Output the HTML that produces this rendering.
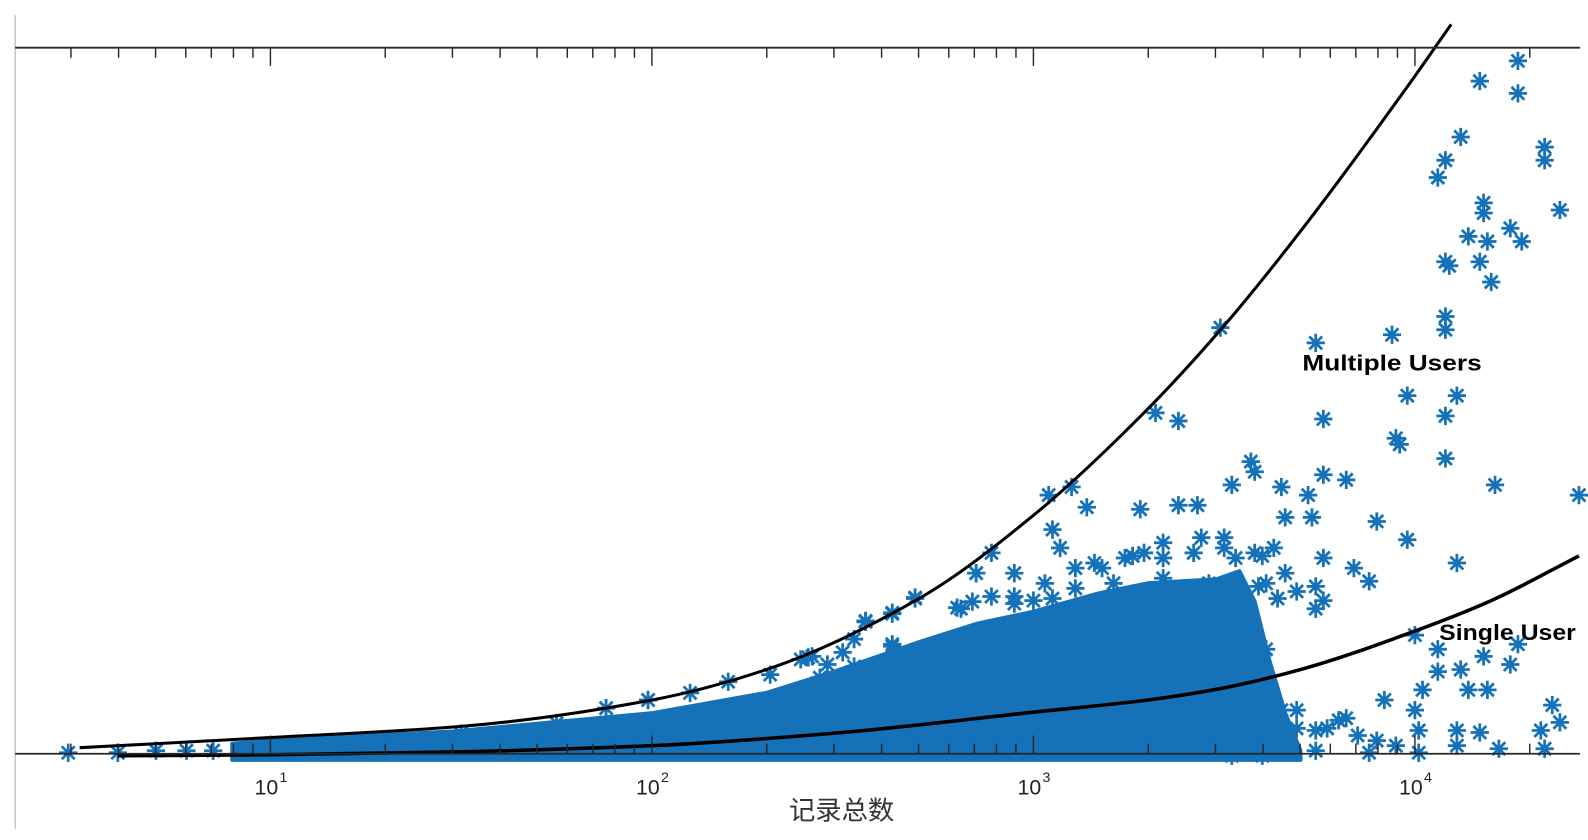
<!DOCTYPE html>
<html><head><meta charset="utf-8">
<style>
html,body{margin:0;padding:0;background:#fff;}
svg{display:block;}
</style></head>
<body>
<svg id="chart" width="1588" height="840" viewBox="0 0 1568 828" preserveAspectRatio="none" xmlns="http://www.w3.org/2000/svg">
<g id="frame"></g>
<g id="blob"></g>
<g id="stars"></g>
<g id="curves"></g>
<g id="axes"></g>
<text x="1286" y="365" font-family="Liberation Sans, sans-serif" font-weight="bold" font-size="22" textLength="177" lengthAdjust="spacingAndGlyphs">Multiple Users</text>
<text x="1421" y="631" font-family="Liberation Sans, sans-serif" font-weight="bold" font-size="22" textLength="135" lengthAdjust="spacingAndGlyphs">Single User</text>
<text x="831" y="808" text-anchor="middle" font-family="Liberation Sans, 'Noto Sans CJK SC', sans-serif" font-size="26" fill="#333">记录总数</text>
</svg>
<script>
// ---- data (x = log10 of record count, y = value in chart units) ----
const decadeTicks = [1, 2, 3, 4];
const tickLabels = ["1", "2", "3", "4"];
const upperCurveX = [0.5, 1, 1.5, 2, 2.3, 2.7, 3, 3.3, 3.5, 3.7, 4, 4.095];
const upperCurveY = [6, 16, 27, 53, 83, 153, 235, 340, 422, 515, 668, 719];
const lowerCurveX = [0.6, 1, 1.5, 2, 2.5, 3, 3.3, 3.5, 3.7, 4, 4.2, 4.43];
const lowerCurveY = [-2, -1, 2, 8, 21, 41, 53, 65, 83, 121, 151, 195];
const cloudTopX = [0.9, 1, 1.48, 2, 2.3, 2.47, 2.7, 2.85, 3, 3.17, 3.3, 3.48, 3.54, 3.58, 3.62, 3.66, 3.7];
const cloudTopY = [10, 13, 22, 40, 60, 80, 110, 128, 140, 158, 168, 172, 180, 150, 90, 40, 3];
const cloudBottomY = -6;
const pointX = [4.27,4.17,4.27,4.12,4.08,4.34,4.34,4.06,4.18,4.18,4.38,4.14,4.19,4.25,4.28,4.08,4.09,4.17,4.20,3.49,3.74,3.94,4.08,4.08,3.98,4.11,3.32,3.38,3.76,4.08,3.95,3.96,4.08,3.58,3.52,3.76,3.82,3.65,3.72,4.21,4.43,3.04,3.10,3.14,3.28,3.38,3.43,3.66,3.73,3.05,3.90,3.98,3.07,2.89,4.11,3.76,3.84,3.88,3.74,3.76,3.74,3.59,2.95,2.85,2.69,2.63,2.56,2.53,2.63,2.41,4.00,4.06,4.12,4.18,4.25,4.27,4.06,4.14,4.19,4.02,4.00,3.92,4.01,4.11,4.17,4.36,4.33,4.38,3.82,3.77,3.90,4.11,4.22,4.34,3.95,3.74,3.64,3.55,3.44,3.40,3.69,3.58,3.21,3.11,2.96,3.34,4.01,3.88,3.57,3.50,3.44,3.34,3.24,3.29,3.16,3.11,3.00,2.81,2.89,3.63,3.58,3.53,3.66,3.69,3.56,3.46,3.40,3.34,3.21,3.05,2.95,2.31,2.20,2.10,1.99,1.88,0.47,0.60,0.70,0.78,0.85,1.2,1.5,1.75,
1.88,1.99,2.39,2.42,2.46,2.50,2.56,2.63,2.69,2.85,2.80,2.84,2.63,2.53,2.44,
2.95,3.03,3.11,3.18,3.26,3.34,3.42,3.50,3.60,3.61,3.64,3.57,3.61,3.58,3.65,
3.69,3.74,3.80,3.85,3.48,3.52,3.60,
0.95,1.09,1.22,1.35,1.49,1.62,1.75];
const pointY = [683,663,651,608,585,598,585,568,543,533,536,510,505,518,505,485,481,485,465,420,405,413,431,418,353,353,336,328,330,333,311,305,291,278,265,275,270,263,255,265,255,255,263,243,241,245,245,233,233,221,229,211,203,198,188,193,183,170,143,151,165,165,178,178,153,138,131,113,106,95,117,103,83,96,88,108,81,63,63,63,43,53,23,23,21,48,23,31,35,25,13,8,5,5,8,3,8,3,3,11,25,19,5,5,5,5,1,1,288,213,213,208,193,198,188,183,151,143,155,203,198,193,178,160,138,168,163,173,168,153,148,78,71,60,53,45,1,1,3,3,3,12,20,30,
45,53,93,96,88,100,130,139,154,178,144,150,108,86,75,
155,168,163,183,195,193,198,203,195,168,153,123,103,83,43,
43,23,33,18,8,-2,-2,
5,8,10,13,15,18,23];

const svg = document.getElementById('chart');
const NS = 'http://www.w3.org/2000/svg';
const X0 = 267, PXD = 376.7, Y0 = 743, PYU = 1;
function xs(l){ return X0 + (l - 1) * PXD; }
function ys(v){ return Y0 - v * PYU; }
function mk(tag, parent, attrs){ const e = document.createElementNS(NS, tag); for (const k in attrs) e.setAttribute(k, attrs[k]); parent.appendChild(e); return e; }
const BLUE = '#1571b8';

// frame
const frame = document.getElementById('frame');
let e;
e = mk('line', frame, {x1:15, y1:15, x2:15, y2:817, stroke:'#bbb', 'stroke-width':1.2});



// cloud
const blob = document.getElementById('blob');
let d = '';
cloudTopX.forEach((x, i) => { d += (i ? 'L' : 'M') + xs(x) + ' ' + ys(cloudTopY[i]); });
for (let i = cloudTopX.length - 1; i >= 0; i--) d += 'L' + xs(cloudTopX[i]) + ' ' + ys(cloudBottomY);
d += 'Z';
e = mk('path', blob, {d: d, fill: BLUE, stroke: BLUE, 'stroke-width': 4, 'stroke-linejoin': 'round'});



// stars
const stars = document.getElementById('stars');
const R = 9;
pointX.forEach((x, i) => {
  const cx = xs(x), cy = ys(pointY[i]);
  const r2 = R * 0.707;
  const p = `M${cx-R} ${cy}H${cx+R}M${cx} ${cy-R}V${cy+R}M${cx-r2} ${cy-r2}L${cx+r2} ${cy+r2}M${cx-r2} ${cy+r2}L${cx+r2} ${cy-r2}`;
  const s = mk('path', stars, {d: p, stroke: BLUE, 'stroke-width': 2.7, fill: 'none'});
  
  
});

// curves: monotone cubic (Fritsch-Carlson) through read points
function smooth(X, Y){
  const px = X.map(xs), py = Y.map(ys), n = px.length;
  const dl = [], m = [];
  for (let i = 0; i < n - 1; i++) dl.push((py[i+1]-py[i])/(px[i+1]-px[i]));
  m[0] = dl[0]; m[n-1] = dl[n-2];
  for (let i = 1; i < n - 1; i++){
    if (dl[i-1]*dl[i] <= 0) m[i] = 0;
    else { const h0 = px[i]-px[i-1], h1 = px[i+1]-px[i];
      m[i] = 3*(h0+h1)/((2*h1+h0)/dl[i-1] + (h1+2*h0)/dl[i]); }
  }
  let s = 'M' + px[0] + ' ' + py[0];
  for (let i = 0; i < n - 1; i++){
    const h = (px[i+1]-px[i])/3;
    s += `C${px[i]+h} ${py[i]+m[i]*h} ${px[i+1]-h} ${py[i+1]-m[i+1]*h} ${px[i+1]} ${py[i+1]}`;
  }
  return s;
}
const curves = document.getElementById('curves');
e = mk('path', curves, {d: smooth(upperCurveX, upperCurveY), stroke:'#000', 'stroke-width':3, fill:'none'});


e = mk('path', curves, {d: smooth(lowerCurveX, lowerCurveY), stroke:'#000', 'stroke-width':3.5, fill:'none'});



// axes
const axes = document.getElementById('axes');
const TOP = 47, XL = 15, XR = 1560;
e = mk('line', axes, {x1:XL, y1:TOP, x2:XR, y2:TOP, stroke:'#262626', 'stroke-width':1.8});


e = mk('line', axes, {x1:XL, y1:Y0, x2:XR, y2:Y0, stroke:'#262626', 'stroke-width':1.8});


for (let dec = 0; dec <= 4; dec++){
  for (let m = 1; m <= 9; m++){
    const l = dec + Math.log10(m);
    const px = xs(l);
    if (px < XL + 2 || px > XR - 2) continue;
    const len = m === 1 ? 18 : 10;
    e = mk('line', axes, {x1:px, y1:TOP, x2:px, y2:TOP+len, stroke:'#262626', 'stroke-width':1.4});
    
    
    e = mk('line', axes, {x1:px, y1:Y0, x2:px, y2:Y0-len, stroke:'#262626', 'stroke-width':1.4});
    
    
  }
}
decadeTicks.forEach((t, i) => {
  const px = xs(t);
  const g = mk('text', axes, {x: px - 4, y: 783, 'text-anchor':'middle', 'font-family':'Liberation Sans, sans-serif', 'font-size':21, fill:'#222'});
  g.textContent = '10';
  
  
  const sp = mk('text', axes, {x: px + 9, y: 771, 'font-family':'Liberation Sans, sans-serif', 'font-size':14, fill:'#222'});
  sp.textContent = tickLabels[i];
  
  
});
</script>
</body></html>
